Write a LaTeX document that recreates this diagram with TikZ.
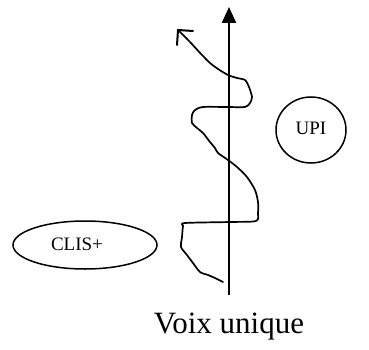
\documentclass[tikz,border=0pt]{standalone}
\usepackage{fontspec}
\setmainfont{Liberation Serif}
\usetikzlibrary{arrows.meta}
\begin{document}
\begin{tikzpicture}[x=1pt,y=-1pt,
  lab/.style={font=\fontsize{19}{22}\selectfont},
  wave/.style={draw=black,line width=1.7pt,line join=round,line cap=round},
  axisline/.style={draw=black,line width=2.3pt,-{Triangle[length=16pt,width=14pt]}}]
\useasboundingbox (0,0) rectangle (369,350);
% ellipses
\draw[line width=1.5pt] (85,245) ellipse [x radius=72, y radius=24];
\node[lab] (clis) at (77,244) {CLIS+};
\draw[line width=1.5pt] (311,130) ellipse [x radius=35, y radius=33];
\node[lab] (upi) at (311,128) {UPI};
% main axis
\coordinate (bot) at (229,295);
\coordinate (top) at (229,7);
\draw[axisline] (bot) -- (top);
% wavy line
\coordinate (tip) at (178,30);
\draw[wave,line width=2pt] (tip) -- ++(15,1);
\draw[wave,line width=2pt] (tip) -- ++(-1,15);
\draw[wave] plot[smooth,tension=0.45] coordinates {
 (178,30) (190,42) (201,54) (203,56) (210,63) (218,69) (228,75)
 (237,78) (245,80) (249,87) (252,97) (250,103) (245,107)
 (227,107) (203,107) (195,110) (192,115) (192,123) (197,128) (203,133)
 (210,142) (215,148) (218,153) (228,160) (237,167) (247,177) (255,190)
 (258,202) (258,213) (256,221) (230,222) (185,223) (183,226) (182,237)
 (181,247) (187,255) (193,263) (200,272) (208,275) (215,278) (223,282)};
% caption
\node[font=\fontsize{31}{36}\selectfont] (cap) at (229,327) {Voix unique};
\end{tikzpicture}
\end{document}
